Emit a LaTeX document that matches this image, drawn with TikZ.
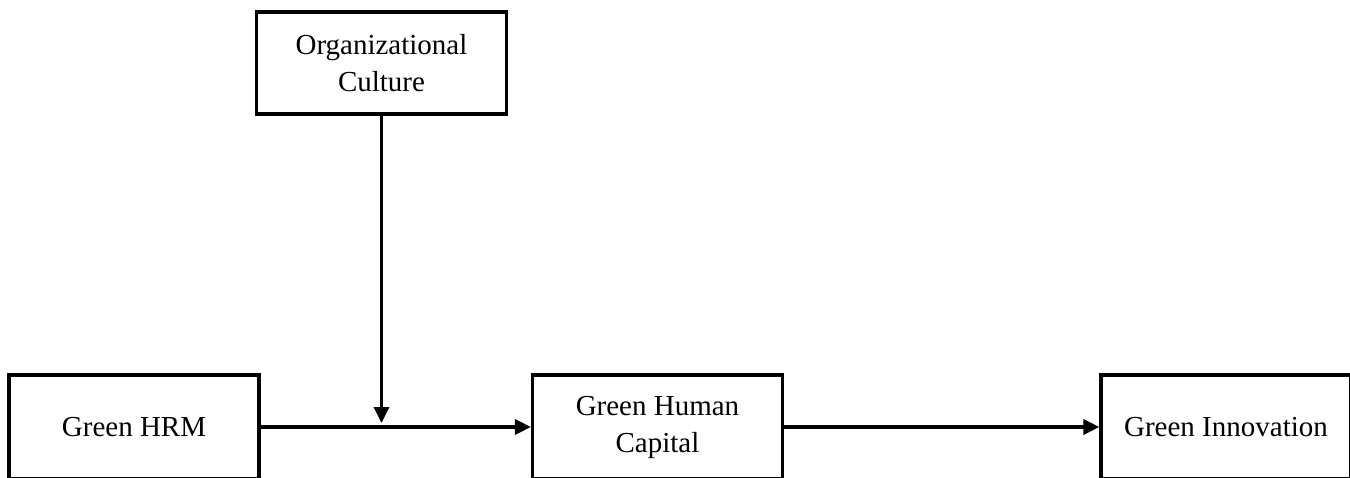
\documentclass[tikz,border=0pt]{standalone}
\usepackage{fontspec}
\setmainfont{Liberation Serif}
\usetikzlibrary{arrows.meta}
\begin{document}
\begin{tikzpicture}[x=1pt,y=1pt,
  box/.style={draw, line width=3.2pt, minimum width=250pt, minimum height=104pt,
    align=center, font=\fontsize{29}{37}\selectfont, inner sep=0pt},
  conn/.style={line width=3.4pt, -{Triangle[length=16pt,width=15pt]}}]
\useasboundingbox (0,0) rectangle (1350,477);
\clip (0,0) rectangle (1350,477);
\node[box, minimum height=102pt] (oc) at (381.5,414) {Organizational\\Culture};
\node[box] (hrm) at (134,50) {Green HRM};
\node[box] (ghc) at (657.5,50) {Green Human\\Capital};
\node[box] (gi) at (1226,50) {Green Innovation};
\coordinate (mod) at (381.5,54);
\draw[conn] (hrm.east) -- (ghc.west);
\draw[conn] (ghc.east) -- (gi.west);
\draw[conn] (oc.south) -- (mod);
\end{tikzpicture}
\end{document}
